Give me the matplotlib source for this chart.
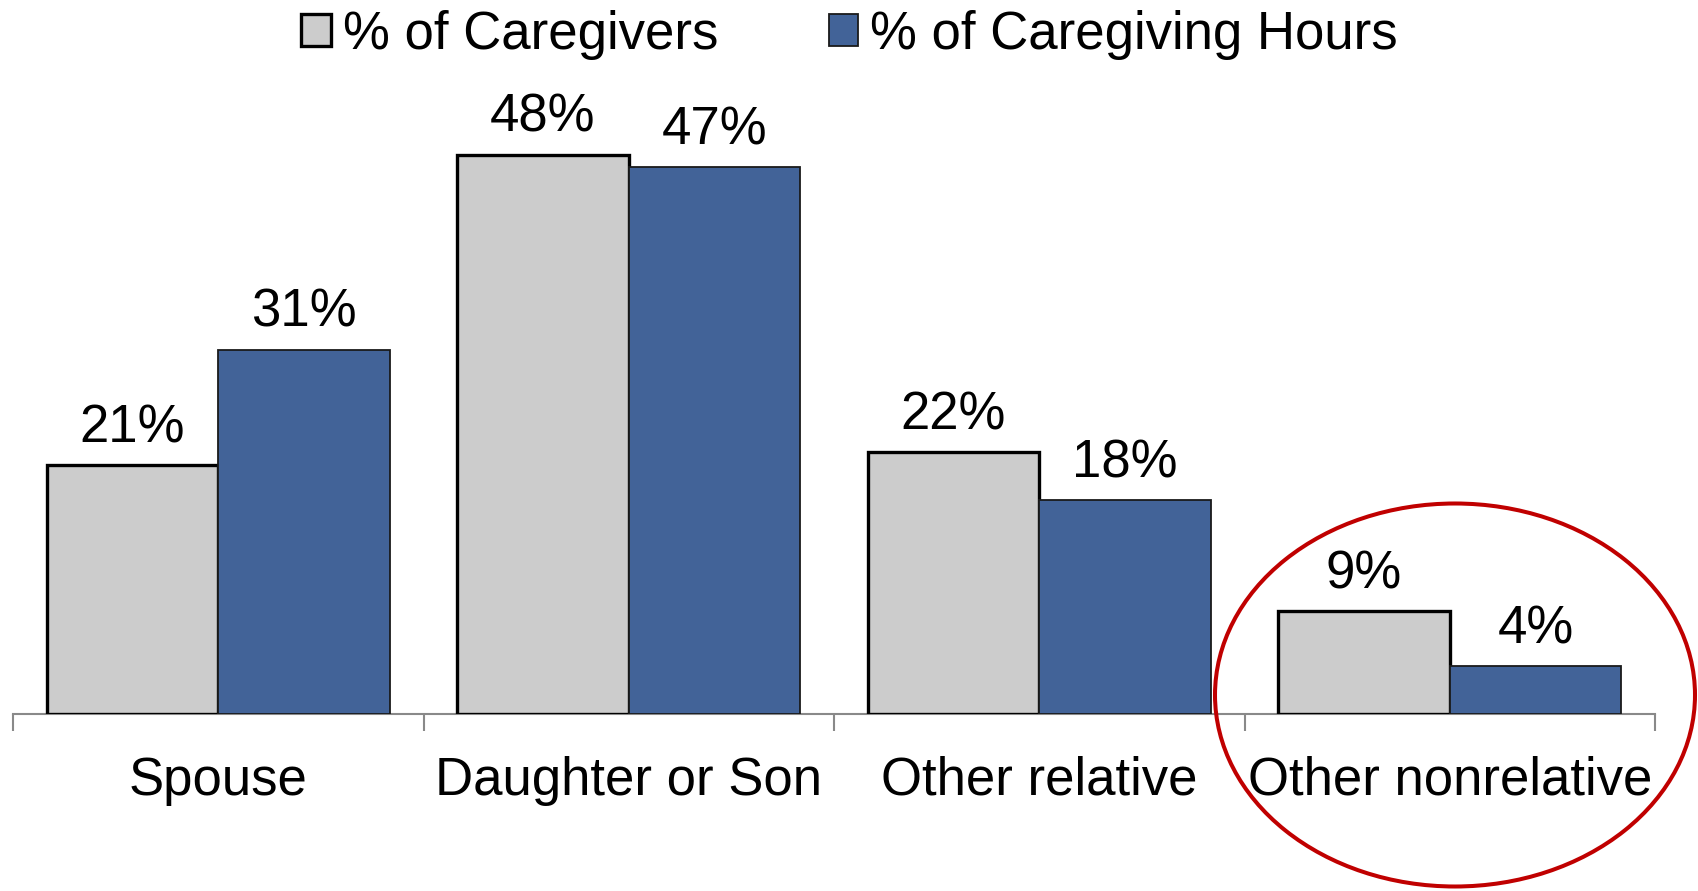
import matplotlib
matplotlib.use("Agg")
import matplotlib.pyplot as plt
import numpy as np
from matplotlib.patches import Ellipse, Patch

categories = ["Spouse", "Daughter or Son", "Other relative", "Other nonrelative"]
series_names = ["% of Caregivers", "% of Caregiving Hours"]
caregivers = [21.3, 47.9, 22.4, 8.8]
hours = [31.2, 46.8, 18.3, 4.1]

plt.rcParams['font.family'] = ['Liberation Sans', 'DejaVu Sans']
FS = 38

fig = plt.figure(figsize=(16.99, 8.91), dpi=100)
YMAX = 60
ax = fig.add_axes([13/1699, 177/891, (1655-13)/1699, YMAX*11.68/891])

x = np.arange(len(categories))
w = 0.418
gray = "#CCCCCC"
blue = "#426398"
b1 = ax.bar(x - w/2, caregivers, width=w, color=gray, edgecolor="black", linewidth=2.4, zorder=3)
b2 = ax.bar(x + w/2, hours, width=w, color=blue, edgecolor="#1a1a1a", linewidth=1.3, zorder=3)

for bars, vals in ((b1, caregivers), (b2, hours)):
    for r, v in zip(bars, vals):
        ax.annotate(f"{round(v)}%", (r.get_x() + r.get_width()/2, r.get_height()),
                    xytext=(0, 16.5), textcoords="offset points",
                    ha="center", va="baseline", fontsize=FS)

ax.set_xlim(-0.5, len(categories) - 0.5)
ax.set_ylim(0, YMAX)
ax.set_yticks([])
for s in ("left", "right", "top"):
    ax.spines[s].set_visible(False)
ax.spines["bottom"].set_color("#898989")
ax.spines["bottom"].set_linewidth(1.5)
ax.set_xticks(x)
ax.set_xticklabels(categories, fontsize=FS)
ax.tick_params(axis="x", which="major", length=0, pad=30)
ax.set_xticks(np.arange(len(categories) + 1) - 0.5, minor=True)
ax.tick_params(axis="x", which="minor", length=12.5, width=1.5, color="#898989", direction="out")

handles = [Patch(facecolor=gray, edgecolor="black", linewidth=2.4),
           Patch(facecolor=blue, edgecolor="#1a1a1a", linewidth=1.3)]
fig.legend(handles, series_names, loc="center", bbox_to_anchor=(0.5, 0.961),
           ncol=2, frameon=False, fontsize=FS, handlelength=0.56, handleheight=0.56,
           handletextpad=0.22, columnspacing=2.1, borderpad=0)

ell = Ellipse((1455/1699, 1 - 695/891), 480/1699, 383/891, transform=fig.transFigure,
              fill=False, edgecolor="#C00000", linewidth=2.9, zorder=10)
fig.patches.append(ell)

fig.savefig("out.png", dpi=100)
